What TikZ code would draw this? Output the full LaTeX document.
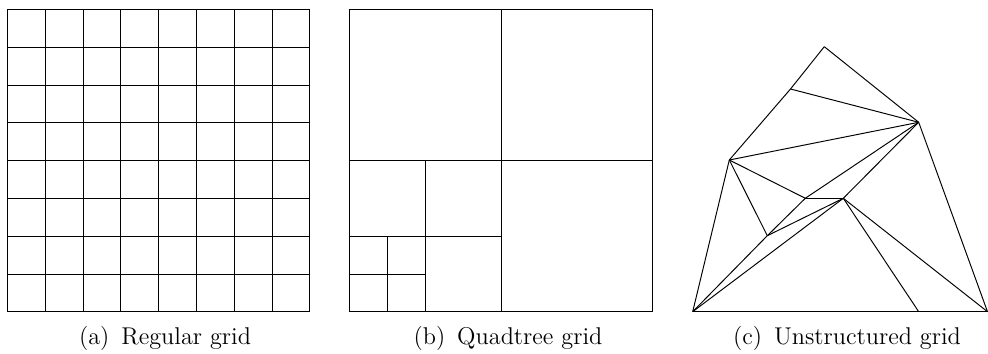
\documentclass[tikz,border=0pt]{standalone}
\usetikzlibrary{positioning}
\begin{document}
\begin{tikzpicture}[x=0.02cm, y=-0.02cm, line width=0.55pt,
    captext/.style={anchor=base, inner sep=0pt, font=\fontsize{13.8pt}{16pt}\selectfont}]
    \useasboundingbox (0,0) rectangle (988,354);
    % regular grid
    \foreach \i in {0,...,8}{
        \draw ({7.5+37.8*\i},9.5) -- ({7.5+37.8*\i},311.7);
        \draw (7.5,{9.5+37.8*\i}) -- (310,{9.5+37.8*\i});
    }
    % quadtree grid
    \draw (349.5,9.5) rectangle (652.5,311.7);
    \draw (501,9.5) -- (501,311.7);
    \draw (349.5,160.6) -- (652.5,160.6);
    \draw (425.2,160.6) -- (425.2,311.7);
    \draw (349.5,236.2) -- (501,236.2);
    \draw (387.4,236.2) -- (387.4,311.7);
    \draw (349.5,274) -- (425.2,274);
    % unstructured grid
    \coordinate (A) at (824.3,46.7);
    \coordinate (B) at (790.5,89);
    \coordinate (C) at (918.7,122.3);
    \coordinate (D) at (729.3,160);
    \coordinate (E) at (805.3,198.3);
    \coordinate (F) at (843.3,198.3);
    \coordinate (G) at (767.3,235.7);
    \coordinate (H) at (692.7,311.7);
    \coordinate (I) at (918.7,311.7);
    \coordinate (J) at (987.5,311.7);
    \draw (A) -- (B) -- (D);
    \draw (A) -- (C) -- (J);
    \draw (H) -- (I) -- (J);
    \draw (B) -- (C);
    \draw (D) -- (C);
    \draw (D) -- (E);
    \draw (D) -- (G);
    \draw (D) -- (H);
    \draw (C) -- (E);
    \draw (C) -- (F);
    \draw (E) -- (F);
    \draw (E) -- (G);
    \draw (G) -- (F);
    \draw (G) -- (H);
    \draw (H) -- (F);
    \draw (F) -- (I);
    \draw (F) -- (J);
    % captions
    \node[captext] (capa) at (165,345) {(a)\, Regular grid};
    \node[captext] (capb) at (508,345) {(b)\, Quadtree grid};
    \node[captext] (capc) at (847,345) {(c)\, Unstructured grid};
\end{tikzpicture}
\end{document}
